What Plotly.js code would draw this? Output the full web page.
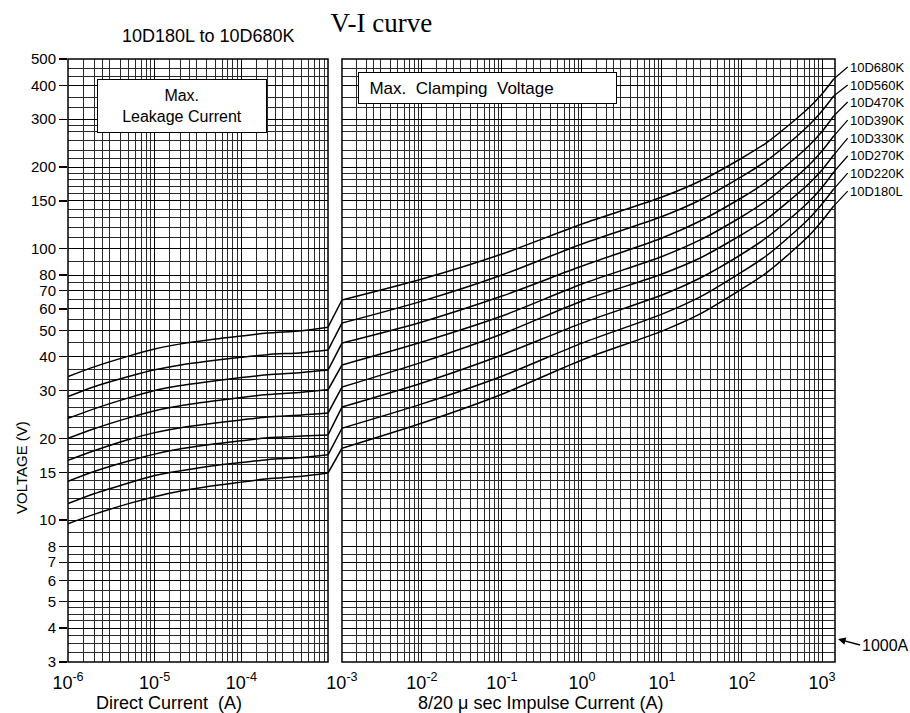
<!DOCTYPE html>
<html><head><meta charset="utf-8">
<script src="https://cdn.plot.ly/plotly-3.0.1.min.js"></script>
<style>html,body{margin:0;padding:0;background:#fff}#chart{width:910px;height:713px}</style>
</head><body><div id="chart"></div>
<script>
// ---- data ----
const models = ['10D680K','10D560K','10D470K','10D390K','10D330K','10D270K','10D220K','10D180L'];

// Direct current (A), max. leakage current region
const directCurrent = [1e-6, 2e-6, 5e-6, 1e-5, 2e-5, 5e-5, 1e-4, 2e-4, 5e-4, 1e-3];
const leak680 = [33.8, 36.7, 40.2, 42.7, 44.6, 46.5, 47.7, 48.9, 49.9, 51.4];
const leak560 = [28.5, 31.0, 33.8, 35.8, 37.3, 38.8, 39.8, 40.7, 41.4, 42.3];
const leak470 = [23.7, 25.7, 28.2, 30.0, 31.3, 32.6, 33.5, 34.3, 35.0, 35.7];
const leak390 = [20.0, 21.7, 23.8, 25.3, 26.4, 27.5, 28.3, 29.0, 29.6, 30.2];
const leak330 = [16.6, 18.0, 19.8, 21.0, 21.9, 22.8, 23.4, 24.0, 24.4, 24.8];
const leak270 = [13.9, 15.1, 16.5, 17.5, 18.3, 19.1, 19.6, 20.1, 20.4, 20.6];
const leak220 = [11.5, 12.5, 13.7, 14.6, 15.2, 15.9, 16.3, 16.7, 17.0, 17.4];
const leak180 = [9.7, 10.5, 11.5, 12.2, 12.8, 13.4, 13.8, 14.2, 14.5, 14.9];

// 8/20 us impulse current (A), max. clamping voltage region
const impulseCurrent = [0.001, 0.01, 0.1, 1, 10, 30, 100, 200, 400, 700, 1000, 1400];
const clamp680 = [64.7, 77.3, 95.6, 123.3, 155.0, 177.6, 215.9, 245.1, 288.0, 332.7, 371.5, 421.9];
const clamp560 = [53.2, 64.1, 80.0, 104.1, 131.4, 151.2, 184.6, 210.4, 247.2, 286.9, 321.7, 365.3];
const clamp470 = [44.9, 53.7, 66.9, 86.3, 109.5, 126.5, 154.4, 176.0, 207.7, 241.0, 270.2, 308.2];
const clamp390 = [37.3, 45.3, 56.5, 74.1, 93.6, 107.7, 131.4, 149.9, 176.1, 204.3, 229.1, 260.1];
const clamp330 = [30.9, 38.2, 48.5, 64.2, 80.7, 92.4, 112.8, 128.1, 151.1, 174.6, 195.0, 221.4];
const clamp270 = [26.1, 32.0, 40.6, 53.2, 67.5, 78.0, 95.6, 109.5, 129.2, 149.9, 168.1, 191.7];
const clamp220 = [21.8, 26.8, 33.9, 44.9, 57.4, 66.4, 82.1, 94.0, 111.4, 129.8, 146.1, 165.9];
const clamp180 = [18.4, 22.8, 29.1, 38.9, 49.7, 57.5, 71.1, 81.3, 96.4, 112.3, 126.5, 143.6];

const voltageTicks = [3,4,5,6,7,8,10,15,20,30,40,50,60,70,80,100,150,200,300,400,500];
const directTicks = [1e-6, 1e-5, 1e-4];
const directTickText = ['10<sup>-6</sup>','10<sup>-5</sup>','10<sup>-4</sup>'];
const impulseTicks = [1e-3, 1e-2, 1e-1, 1, 10, 100, 1000];
const impulseTickText = ['10<sup>-3</sup>','10<sup>-2</sup>','10<sup>-1</sup>','10<sup>0</sup>','10<sup>1</sup>','10<sup>2</sup>','10<sup>3</sup>'];

const leakSets = [leak680, leak560, leak470, leak390, leak330, leak270, leak220, leak180];
const clampSets = [clamp680, clamp560, clamp470, clamp390, clamp330, clamp270, clamp220, clamp180];

// ---- graph-paper grid positions ----
const mult = [1.5,2,2.5,3,4,5,6,7,8,9];
function logMinor(d0, d1, maxV) {
  const out = [];
  for (let d = d0; d < d1; d++) mult.forEach(m => { const v = m * Math.pow(10, d); if (!maxV || v <= maxV) out.push(v); });
  return out;
}
const leftMinor = logMinor(-6, -3);
const rightMinor = logMinor(-3, 4, 1450);
const yMinor = [3.25,3.5,3.75,4.25,4.5,4.75,5.5,6.5,7.5,9,11,12,13,14,16,17,18,19,22,24,26,28,33,36,45,55,65,75,90,110,120,130,140,160,170,180,190,215,230,250,270,285,330,360,430,460];

const LINE = {color:'#000', width:1.5, shape:'spline', smoothing:0.8};
const traces = [];
models.forEach((m, i) => {
  traces.push({type:'scatter', mode:'lines', name:m, x:directCurrent, y:leakSets[i], xaxis:'x', yaxis:'y', line:LINE, showlegend:false, hoverinfo:'skip'});
  traces.push({type:'scatter', mode:'lines', name:m, x:[0,1], y:[leakSets[i][leakSets[i].length-1], clampSets[i][0]], xaxis:'x3', yaxis:'y3', line:{color:'#000', width:1.5}, showlegend:false, hoverinfo:'skip'});
  traces.push({type:'scatter', mode:'lines', name:m, x:impulseCurrent, y:clampSets[i], xaxis:'x2', yaxis:'y', line:LINE, showlegend:false, hoverinfo:'skip'});
});

const FONT = 'Liberation Sans, Arial, sans-serif';
const GRIDMAJ = '#000', GRIDMIN = '#2a2a2a';
const yr = [Math.log10(3), Math.log10(500)];
const NB = '\u00a0';

// curve label leaders
const labelDY = [-12,-11,-14,-16,-17,-16,-16,-15];
const annotations = models.map((m, i) => ({
  xref:'x2', yref:'y', x:Math.log10(impulseCurrent[impulseCurrent.length-1]), y:Math.log10(clampSets[i][clampSets[i].length-1]),
  text:m, showarrow:true, arrowhead:0, arrowwidth:1.2, arrowcolor:'#000', ax:14, ay:labelDY[i],
  xanchor:'left', yanchor:'middle', font:{family:FONT, size:13, color:'#000'}, standoff:0, startstandoff:0
}));
annotations.push(
  {xref:'paper', yref:'paper', x:0.1486, y:0.922, text:'Max.<br>Leakage Current', showarrow:false,
   bgcolor:'#fff', bordercolor:'#000', borderwidth:1, width:166, height:50, font:{family:FONT, size:16, color:'#000'}, xanchor:'center', yanchor:'middle'},
  {xref:'paper', yref:'paper', x:0.547, y:0.9527, text:NB+NB+'Max.'+NB+NB+'Clamping'+NB+NB+'Voltage', showarrow:false, align:'left',
   bgcolor:'#fff', bordercolor:'#000', borderwidth:1, width:255, height:28, font:{family:FONT, size:17, color:'#000'}, xanchor:'center', yanchor:'middle'},
  {xref:'paper', yref:'paper', x:-0.06, y:0.3234, text:'VOLTAGE (V)', textangle:-90, showarrow:false, xanchor:'center', yanchor:'middle', font:{family:FONT, size:15, color:'#000'}},
  {xref:'paper', yref:'paper', x:0.1317, y:-0.068, text:'Direct Current'+NB+NB+'(A)', showarrow:false, xanchor:'center', yanchor:'middle', font:{family:FONT, size:18, color:'#000'}},
  {xref:'paper', yref:'paper', x:0.6154, y:-0.068, text:'8/20 μ sec Impulse Current (A)', showarrow:false, xanchor:'center', yanchor:'middle', font:{family:FONT, size:18, color:'#000'}},
  {xref:'paper', yref:'paper', x:0.1829, y:1.0381, text:'10D180L to 10D680K', showarrow:false, xanchor:'center', yanchor:'middle', font:{family:FONT, size:18, color:'#000'}},
  {xref:'paper', yref:'paper', x:1.004, y:0.038, text:'1000A', showarrow:true, arrowhead:2, arrowsize:1, arrowwidth:1.5, arrowcolor:'#000',
   ax:22, ay:6, xanchor:'left', yanchor:'middle', font:{family:FONT, size:16, color:'#000'}}
);

const layout = {
  width:910, height:713,
  margin:{l:68, r:75, t:59, b:51},
  paper_bgcolor:'#fff', plot_bgcolor:'#fff',
  font:{family:FONT, color:'#000'},
  title:{text:'V-I curve', font:{family:'Liberation Serif, Times New Roman, serif', size:27, color:'#000'}, x:0.419, xanchor:'center', y:0.968, yanchor:'middle'},
  xaxis:{type:'log', domain:[0,0.339], range:[-6,-3], anchor:'y', tickmode:'array', tickvals:directTicks, ticktext:directTickText,
    showgrid:true, gridcolor:GRIDMAJ, gridwidth:1, zeroline:false, showline:false, ticks:'', ticklabelstandoff:8, tickfont:{size:18, family:FONT},
    minor:{tickmode:'array', tickvals:leftMinor, showgrid:true, gridcolor:GRIDMIN, gridwidth:1, ticks:''}},
  xaxis2:{type:'log', domain:[0.3572,1], range:[-3,3.1625], anchor:'y', tickmode:'array', tickvals:impulseTicks, ticktext:impulseTickText,
    showgrid:true, gridcolor:GRIDMAJ, gridwidth:1, zeroline:false, showline:false, ticks:'', ticklabelstandoff:8, tickfont:{size:18, family:FONT},
    minor:{tickmode:'array', tickvals:rightMinor, showgrid:true, gridcolor:GRIDMIN, gridwidth:1, ticks:''}},
  xaxis3:{domain:[0.339,0.3572], range:[0,1], anchor:'y3', showgrid:false, zeroline:false, showticklabels:false, ticks:'', showline:false, fixedrange:true},
  yaxis:{type:'log', domain:[0,1], range:yr, anchor:'x', tickmode:'array', tickvals:voltageTicks, ticktext:voltageTicks.map(String),
    ticks:'outside', ticklen:8, tickcolor:'#000', tickwidth:1.2, showgrid:true, gridcolor:GRIDMAJ, gridwidth:1, zeroline:false, showline:false,
    tickfont:{size:15, family:FONT},
    minor:{tickmode:'array', tickvals:yMinor, showgrid:true, gridcolor:GRIDMIN, gridwidth:1, ticks:''}},
  yaxis3:{type:'log', domain:[0,1], range:yr, anchor:'x3', showgrid:false, zeroline:false, showticklabels:false, ticks:'', showline:false},
  shapes:[
    {type:'rect', xref:'x domain', yref:'y domain', x0:0, x1:1, y0:0, y1:1, line:{color:'#000', width:1.5}},
    {type:'rect', xref:'x2 domain', yref:'y domain', x0:0, x1:1, y0:0, y1:1, line:{color:'#000', width:1.5}}
  ],
  annotations:annotations,
  showlegend:false
};

Plotly.newPlot('chart', traces, layout, {displayModeBar:false, staticPlot:true});
</script></body></html>
